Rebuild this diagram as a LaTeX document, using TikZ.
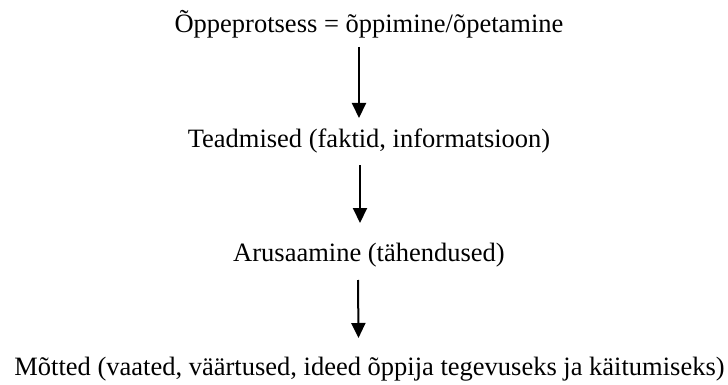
\documentclass[tikz,border=0pt]{standalone}
\usepackage{fontspec}
\setmainfont{Liberation Serif}
\usetikzlibrary{arrows.meta}
\tikzset{
  lbl/.style={anchor=base, inner sep=0pt, font=\fontsize{26.5}{30}\selectfont},
  arr/.style={line width=2pt, -{Triangle[width=14pt,length=15pt]}}
}
\begin{document}
\begin{tikzpicture}[x=1pt,y=1pt]
\useasboundingbox (0,0) rectangle (728,-385);
\node[lbl] (t1) at (369,-33) {Õppeprotsess = õppimine/õpetamine};
\node[lbl] (t2) at (369,-147) {Teadmised (faktid, informatsioon)};
\node[lbl] (t3) at (369,-261) {Arusaamine (tähendused)};
\node[lbl] (t4) at (369.5,-375) {Mõtted (vaated, väärtused, ideed õppija tegevuseks ja käitumiseks)};
\draw[arr] ([shift={(-10pt,-14pt)}]t1.base) -- ([shift={(-10pt,29pt)}]t2.base);
\draw[arr] ([shift={(-9pt,-18pt)}]t2.base) -- ([shift={(-9pt,38pt)}]t3.base);
\draw[arr] ([shift={(-11pt,-19pt)}]t3.base) -- ([shift={(-11pt,37pt)}]t4.base);
\end{tikzpicture}
\end{document}
